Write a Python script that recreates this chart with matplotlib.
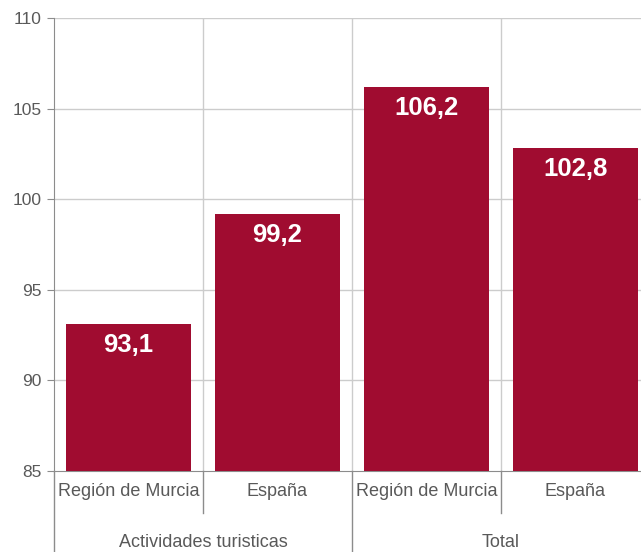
import matplotlib.pyplot as plt
from matplotlib.transforms import blended_transform_factory

plt.rcParams['font.family'] = ['Liberation Sans', 'DejaVu Sans']

categories = ['Región de Murcia', 'España', 'Región de Murcia', 'España']
groups = ['Actividades turisticas', 'Total']
values = [93.1, 99.2, 106.2, 102.8]
yticks = [85, 90, 95, 100, 105, 110]

bar_color = '#A00C30'
grid_color = '#CCCCCC'
axis_color = '#8C8C8C'
text_color = '#595959'

fig = plt.figure(figsize=(6.41, 5.52), dpi=100)
# plot area runs past the right edge of the image, as in the original
ax = fig.add_axes([54 / 641, 81 / 552, 596 / 641, 453 / 552])

x = list(range(len(values)))
ax.bar(x, values, width=0.84, color=bar_color, zorder=3)
ax.set_xlim(-0.5, len(values) - 0.5)
ax.set_ylim(85, 110)
ax.set_yticks(yticks)
ax.set_yticklabels([str(t) for t in yticks], fontsize=12.5, color=text_color)
ax.tick_params(axis='y', length=5, color=axis_color, pad=4)

for t in yticks[1:]:
    ax.axhline(t, color=grid_color, lw=1, zorder=1)
for b in [0.5, 1.5, 2.5]:
    ax.axvline(b, color=grid_color, lw=1, zorder=1)

for s in ['top', 'right']:
    ax.spines[s].set_visible(False)
ax.spines['left'].set_color(axis_color)
ax.spines['bottom'].set_color(axis_color)

ax.set_xticks(x)
ax.set_xticklabels(categories, fontsize=13, color=text_color)
ax.tick_params(axis='x', length=0, pad=9)

trans = blended_transform_factory(ax.transData, ax.transAxes)
# separators below the axis
for b in [0.5, 2.5]:
    ax.plot([b, b], [0, -0.093], transform=trans, color=axis_color, lw=1, clip_on=False)
for b in [-0.5, 1.5]:
    ax.plot([b, b], [0, -0.18], transform=trans, color=axis_color, lw=1, clip_on=False)

ax.text(0.5, -0.157, groups[0], transform=trans, ha='center', va='center',
        fontsize=13, color=text_color)
ax.text(2.5, -0.157, groups[1], transform=trans, ha='center', va='center',
        fontsize=13, color=text_color)

for xi, v in zip(x, values):
    ax.annotate(f'{v:.1f}'.replace('.', ','), (xi, v), xytext=(0, -15),
                textcoords='offset points', ha='center', va='center',
                color='white', fontsize=18.5, fontweight='bold', zorder=4)

fig.savefig('out.png', dpi=100)
